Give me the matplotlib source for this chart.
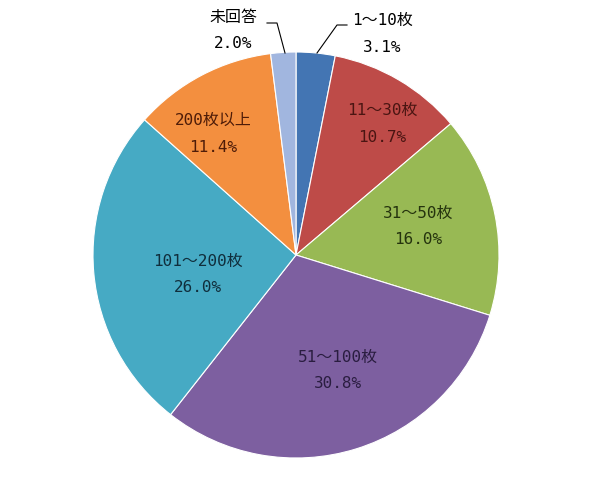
import matplotlib.pyplot as plt

plt.rcParams['font.family'] = ['DejaVu Sans Mono', 'Noto Sans CJK SC']

labels = ['1～10枚', '11～30枚', '31～50枚', '51～100枚', '101～200枚', '200枚以上', '未回答']
shares = [3.1, 10.7, 16.0, 30.8, 26.0, 11.4, 2.0]
colors = ['#4375B3', '#BE4B48', '#98B954', '#7D5FA0', '#46AAC4', '#F38F3F', '#A1B6DF']
text_colors = ['#000000', '#4A1512', '#25330E', '#2A1D40', '#102E3C', '#4E1C08', '#000000']

H = 498
fig = plt.figure(figsize=(6.0, 4.98), dpi=100)
ax = fig.add_axes([0, 0, 1, 1])

cx, cy, r = 296, H - 255, 203
ax.pie(shares, colors=colors, startangle=90, counterclock=False,
       center=(cx, cy), radius=r, frame=True,
       wedgeprops=dict(edgecolor='white', linewidth=0.8))
ax.set_xlim(0, 600)
ax.set_ylim(0, H)
ax.set_aspect('equal')
ax.axis('off')

# label positions in image pixels (x, name y, percent y)
pos = {
    0: (382, 20, 47),
    1: (382, 110, 137),
    2: (418, 213, 239),
    3: (338, 357, 383),
    4: (198, 261, 288),
    5: (213, 120, 147),
    6: (233, 17, 43),
}
for i, (x, y1, y2) in pos.items():
    ax.text(x, H - y1, labels[i], ha='center', va='center', fontsize=11.5, color=text_colors[i])
    ax.text(x, H - y2, '%.1f%%' % shares[i], ha='center', va='center', fontsize=11.5, color=text_colors[i])

# leader lines for the two small slices
ax.plot([347, 337, 317], [H - 25, H - 25, H - 53], color='black', lw=0.8)
ax.plot([267, 277, 285], [H - 23, H - 23, H - 53], color='black', lw=0.8)

fig.savefig('out.png', dpi=100, facecolor='white')
